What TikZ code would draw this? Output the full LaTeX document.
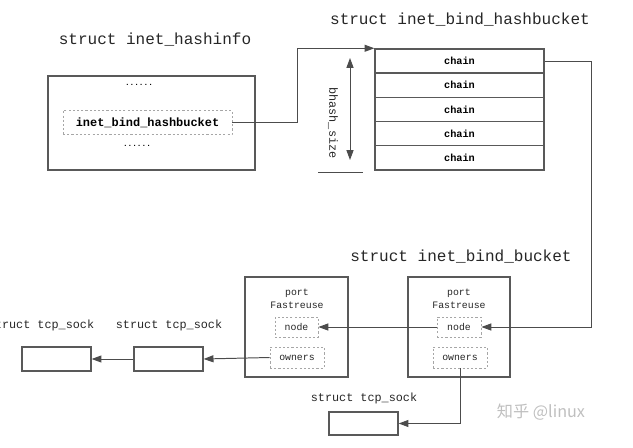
\documentclass[tikz,border=0pt]{standalone}
\usepackage{fontspec}
\setmonofont{Liberation Mono}
\newfontfamily\cjkfont{Noto Sans CJK SC}
\usetikzlibrary{arrows.meta}
\newcommand\pxu{0.025cm}
\tikzset{
  box/.style={draw=black!65, line width=0.9pt, inner sep=0pt},
  field/.style={draw=black!35, dash pattern=on 1.5pt off 1.5pt, line width=0.6pt, inner sep=0pt},
  wire/.style={draw=black!70, line width=0.7pt},
  arr/.style={wire, -{Triangle[length=7pt,width=5pt]}},
  title/.style={font=\fontsize{11.4}{13}\selectfont\ttfamily, text=black!85},
  small/.style={font=\fontsize{7}{9.2}\selectfont\ttfamily, text=black!85},
  sockname/.style={font=\fontsize{8.4}{10}\selectfont\ttfamily, text=black!85},
  chainbox/.style={box, minimum width=169*\pxu, minimum height=24.2*\pxu,
    font=\fontsize{7.3}{9}\selectfont\ttfamily\bfseries},
  sockbox/.style={box, minimum width=69*\pxu, minimum height=24*\pxu},
}
\begin{document}
\begin{tikzpicture}[x=\pxu, y=-\pxu]
  \useasboundingbox (0,0) rectangle (633,448);

  % inet_hashinfo
  \node[title] (t_hashinfo) at (155,40) {struct inet\_hashinfo};
  \node[box, minimum width=207*\pxu, minimum height=94*\pxu] (hashinfo) at (151.5,123) {};
  \node[font=\fontsize{5.5}{6}\selectfont\ttfamily\bfseries] (dots1) at (139,85) {......};
  \node[font=\fontsize{5.5}{6}\selectfont\ttfamily\bfseries] (dots2) at (137,146) {......};
  \node[field, minimum width=169*\pxu, minimum height=24*\pxu,
    font=\fontsize{8.5}{10}\selectfont\ttfamily\bfseries] (hb) at (147.5,122.5) {inet\_bind\_hashbucket};

  % inet_bind_hashbucket
  \node[title] (t_hashbucket) at (460,20) {struct inet\_bind\_hashbucket};
  \foreach \i in {1,...,5}
    \node[chainbox] (chain\i) at (459.5,36.8+24.2*\i) {chain};
  \coordinate (bs_top) at (350,58);
  \coordinate (bs_bot) at (350,160);
  \draw[wire, {Triangle[length=7pt,width=5pt]}-{Triangle[length=7pt,width=5pt]}] (bs_top) -- (bs_bot);
  \node[sockname, rotate=-90] (bs_label) at (333,123) {bhash\_size};
  \draw[wire] (318,172) -- (363,172);

  % inet_bind_bucket
  \node[title] (t_bucket) at (461,257) {struct inet\_bind\_bucket};
  \node[box, minimum width=103*\pxu, minimum height=100*\pxu] (lbucket) at (296.5,327) {};
  \node[box, minimum width=102*\pxu, minimum height=100*\pxu] (rbucket) at (459,327) {};
  \node[small, align=center] (lport) at (297,298.5) {port\\Fastreuse};
  \node[small, align=center] (rport) at (459,298.5) {port\\Fastreuse};
  \node[field, small, minimum width=43*\pxu, minimum height=20*\pxu] (lnode) at (296.5,327) {node};
  \node[field, small, minimum width=54*\pxu, minimum height=21*\pxu] (lowners) at (297,357.5) {owners};
  \node[field, small, minimum width=44*\pxu, minimum height=20*\pxu] (rnode) at (459,327) {node};
  \node[field, small, minimum width=54*\pxu, minimum height=21*\pxu] (rowners) at (460,357.5) {owners};

  % tcp_sock
  \node[sockname] (t_sock3) at (364,398) {struct tcp\_sock};
  \node[sockbox, minimum height=23*\pxu] (sock3) at (363.5,423.5) {};
  \node[sockname] (t_sock2) at (169,325) {struct tcp\_sock};
  \node[sockbox] (sock2) at (168.5,359) {};
  \node[sockname] (t_sock1) at (41,325) {struct tcp\_sock};
  \node[sockbox] (sock1) at (56.5,359) {};

  % links
  \draw[arr] (hb.east) -- ++(65,0) |- (chain1.north west);
  \draw[arr] (chain1.east) -- ++(47,0) |- (rnode.east);
  \draw[arr] (rnode.west) -- (lnode.east);
  \draw[arr] (rowners.south) |- (sock3.east);
  \draw[arr] (lowners.west) -- (sock2.east);
  \draw[arr] (sock2.west) -- (sock1.east);

  \node[font=\cjkfont\fontsize{11.5}{13}\selectfont, text=black!25] (mark) at (541,412) {知乎 @linux};
\end{tikzpicture}
\end{document}
